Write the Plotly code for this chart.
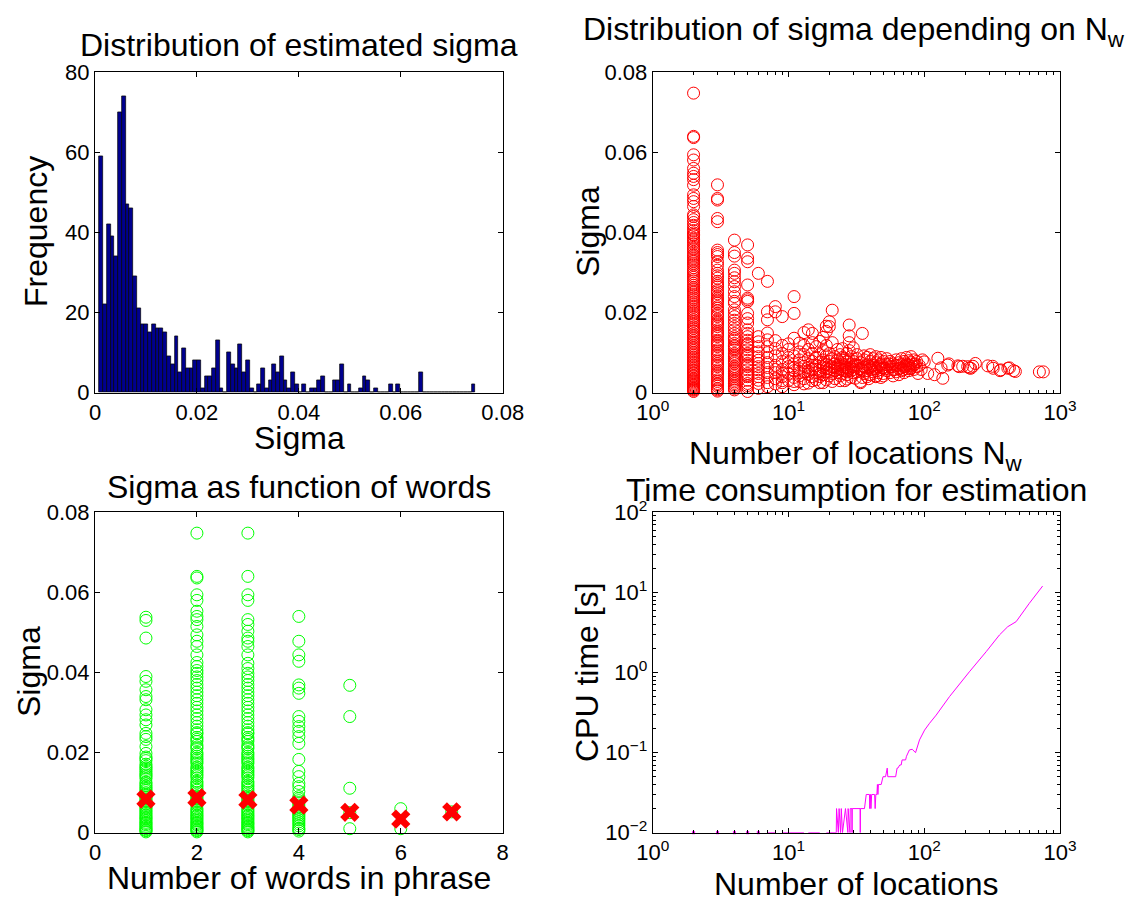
import numpy as np
import plotly.graph_objects as go

# ---------------- data ----------------
# histogram of estimated sigma (100 bins, MATLAB hist)
hist_min, hist_max = 0.00084, 0.07465
hist_counts = [59, 22, 42, 39, 34, 70, 74, 47, 46, 29,
               21, 17, 17, 15, 17, 16, 16, 15, 9, 7,
               14, 5, 11, 6, 6, 8, 8, 1, 4, 4,
               6, 13, 1, 0, 10, 7, 6, 12, 5, 8,
               1, 0, 2, 6, 1, 3, 7, 5, 9, 3,
               1, 5, 2, 0, 2, 0, 1, 1, 3, 4,
               0, 0, 3, 3, 7, 0, 2, 0, 0, 1,
               4, 3, 0, 1, 0, 0, 0, 2, 0, 2,
               0, 0, 0, 0, 0, 5, 0, 0, 0, 0,
               0, 0, 0, 0, 0, 0, 0, 0, 0, 2]

# sigma vs number of locations N_w (columns for small N_w)
sig_n2 = [0.0748, 0.0640, 0.0637, 0.0594, 0.0581, 0.0560, 0.0548, 0.0540, 0.0532, 0.0518,
          0.0494, 0.0485, 0.0477, 0.0465, 0.0444, 0.0432, 0.0418, 0.0405, 0.0395, 0.0386,
          0.0377, 0.0366, 0.0357, 0.0345, 0.0336, 0.0327, 0.0318, 0.0306, 0.0297, 0.0288,
          0.0279, 0.0268, 0.0259, 0.0250, 0.0241, 0.0232, 0.0222, 0.0213, 0.0204, 0.0196,
          0.0187, 0.0178, 0.0169, 0.0160, 0.0152, 0.0143, 0.0135, 0.0126, 0.0117, 0.0109,
          0.0101, 0.0093, 0.0085, 0.0077, 0.0069, 0.0061, 0.0054, 0.0047, 0.0040, 0.0033,
          0.0027, 0.0021, 0.0015, 0.0010, 0.0006, 0.0003,
          0.0392, 0.0372, 0.0351, 0.0331, 0.0312, 0.0292, 0.0273, 0.0254, 0.0236, 0.0217,
          0.0200, 0.0182, 0.0164, 0.0147, 0.0130, 0.0113, 0.0097, 0.0081, 0.0065, 0.0050,
          0.0036, 0.0024, 0.0012,
          0.0440, 0.0425, 0.0411, 0.0399, 0.0382, 0.0361, 0.0341, 0.0322, 0.0302, 0.0283,
          0.0263, 0.0245, 0.0227, 0.0208, 0.0191, 0.0173, 0.0155, 0.0139, 0.0122, 0.0105,
          0.0089, 0.0073, 0.0057, 0.0043, 0.0030, 0.0018, 0.0008]
sig_n3 = [0.0519, 0.0485, 0.0481, 0.0435, 0.0427, 0.0356, 0.0350, 0.0345, 0.0327, 0.0306,
          0.0298, 0.0286, 0.0273, 0.0264, 0.0256, 0.0247, 0.0240, 0.0231, 0.0223, 0.0211,
          0.0198, 0.0190, 0.0182, 0.0174, 0.0165, 0.0157, 0.0148, 0.0140, 0.0131, 0.0123,
          0.0115, 0.0107, 0.0098, 0.0090, 0.0082, 0.0073, 0.0065, 0.0057, 0.0049, 0.0040,
          0.0032, 0.0023, 0.0016, 0.0010, 0.0004,
          0.0268, 0.0235, 0.0205, 0.0178, 0.0152, 0.0127, 0.0103, 0.0078, 0.0053, 0.0028,
          0.0340, 0.0318, 0.0292, 0.0278, 0.0252, 0.0227, 0.0215, 0.0194, 0.0170, 0.0144,
          0.0119, 0.0094, 0.0069, 0.0045, 0.0020, 0.0007]
sig_n4 = [0.0381, 0.0350, 0.0341, 0.0306, 0.0298, 0.0287, 0.0277, 0.0265, 0.0252, 0.0240,
          0.0223, 0.0207, 0.0190, 0.0181, 0.0173, 0.0157, 0.0148, 0.0140, 0.0131, 0.0123,
          0.0115, 0.0107, 0.0098, 0.0090, 0.0081, 0.0073, 0.0065, 0.0057, 0.0048, 0.0040,
          0.0031, 0.0023, 0.0015, 0.0007, 0.0118, 0.0086, 0.0053, 0.0019,
          0.0228, 0.0198, 0.0165, 0.0135, 0.0111, 0.0094, 0.0077, 0.0061, 0.0044, 0.0035,
          0.0027, 0.0011]
sig_n5 = [0.0369, 0.0336, 0.0327, 0.0269, 0.0236, 0.0232, 0.0228, 0.0198, 0.0185, 0.0174,
          0.0157, 0.0148, 0.0140, 0.0131, 0.0123, 0.0115, 0.0107, 0.0098, 0.0090, 0.0081,
          0.0073, 0.0065, 0.0057, 0.0048, 0.0040, 0.0031, 0.0023, 0.0013, 0.0003,
          0.0120, 0.0094, 0.0069, 0.0044, 0.0018]
sig_n6 = [0.0298, 0.0140, 0.0127, 0.0115, 0.0102, 0.0090, 0.0081, 0.0073, 0.0065, 0.0057,
          0.0048, 0.0040, 0.0031, 0.0023, 0.0011]
sig_n7 = [0.0278, 0.0202, 0.0182, 0.0149, 0.0132, 0.0115, 0.0100, 0.0088, 0.0075, 0.0063,
          0.0050, 0.0038, 0.0025, 0.0015]

# scattered points for larger N_w
spread_n = [8, 8, 8, 8, 8, 8, 8, 8, 8, 9, 9, 9, 9, 9, 9, 9, 9,
            10, 10, 10, 10, 10, 10, 11, 11, 11, 11, 11, 11, 11, 11,
            12, 12, 12, 12, 12, 12, 13, 13, 13, 13, 13, 13,
            14, 14, 14, 14, 14, 14, 15, 15, 15, 15, 15, 15,
            16, 16, 16, 16, 16, 17, 17, 17, 17, 17,
            18, 18, 18, 18, 18, 18, 19, 19, 19, 19, 19, 19,
            20, 20, 20, 20, 20, 20, 21, 21, 21, 21, 21,
            22, 22, 22, 22, 23, 23, 23, 23, 24, 24, 24, 24,
            25, 25, 25, 25, 26, 26, 26, 26, 27, 27, 27, 27,
            28, 28, 28, 28, 28, 28, 29, 29, 29, 29, 30, 30, 30, 30,
            32, 32, 32, 32, 34, 34, 34, 34, 35, 36, 36, 36, 36,
            38, 38, 38, 38, 40, 40, 40, 40, 42, 42, 42,
            44, 44, 44, 44, 46, 46, 46, 48, 48, 48, 48, 50, 50, 50,
            53, 53, 53, 56, 56, 56, 59, 59, 59, 62, 62, 62,
            65, 65, 65, 68, 68, 68, 71, 71, 71, 74, 74, 74,
            77, 77, 77, 80, 80, 80, 84, 84, 84, 88, 88, 90, 92, 95, 97,
            100, 106, 119, 126, 133, 137, 149, 152, 177, 181, 192, 209, 215, 220,
            228, 238, 294, 319, 322, 362, 366, 413, 424, 455, 469, 705, 754]
spread_sig = [0.0215, 0.0202, 0.0092, 0.0068, 0.0050, 0.0035, 0.0022, 0.0110, 0.0130,
              0.0190, 0.0078, 0.0058, 0.0040, 0.0025, 0.0098, 0.0118, 0.0015,
              0.0088, 0.0065, 0.0048, 0.0030, 0.0108, 0.0122,
              0.0240, 0.0198, 0.0072, 0.0055, 0.0038, 0.0092, 0.0020, 0.0136,
              0.0082, 0.0060, 0.0042, 0.0028, 0.0124, 0.0102,
              0.0075, 0.0052, 0.0035, 0.0095, 0.0150, 0.0118,
              0.0085, 0.0063, 0.0046, 0.0024, 0.0157, 0.0108,
              0.0078, 0.0058, 0.0040, 0.0098, 0.0148, 0.0125,
              0.0068, 0.0050, 0.0088, 0.0032, 0.0115,
              0.0075, 0.0056, 0.0095, 0.0040, 0.0128,
              0.0082, 0.0062, 0.0045, 0.0105, 0.0138, 0.0025,
              0.0070, 0.0052, 0.0153, 0.0092, 0.0118, 0.0166,
              0.0078, 0.0060, 0.0165, 0.0177, 0.0098, 0.0042,
              0.0206, 0.0085, 0.0065, 0.0048, 0.0125,
              0.0072, 0.0055, 0.0090, 0.0035, 0.0068, 0.0082, 0.0050, 0.0108,
              0.0075, 0.0060, 0.0042, 0.0095,
              0.0088, 0.0065, 0.0048, 0.0110, 0.0070, 0.0055, 0.0085, 0.0030,
              0.0078, 0.0062, 0.0098, 0.0045,
              0.0142, 0.0169, 0.0082, 0.0058, 0.0105, 0.0125,
              0.0072, 0.0055, 0.0090, 0.0038, 0.0078, 0.0065, 0.0112, 0.0050,
              0.0085, 0.0068, 0.0052, 0.0095, 0.0075, 0.0060, 0.0025, 0.0028,
              0.0148, 0.0082, 0.0065, 0.0048, 0.0092,
              0.0070, 0.0055, 0.0088, 0.0040, 0.0078, 0.0062, 0.0095, 0.0045,
              0.0068, 0.0052, 0.0085,
              0.0075, 0.0060, 0.0090, 0.0042, 0.0082, 0.0065, 0.0050,
              0.0072, 0.0058, 0.0088, 0.0038, 0.0078, 0.0062, 0.0048,
              0.0070, 0.0055, 0.0085, 0.0065, 0.0078, 0.0050, 0.0072, 0.0058, 0.0042,
              0.0068, 0.0082, 0.0052, 0.0060, 0.0075, 0.0045,
              0.0070, 0.0085, 0.0055, 0.0065, 0.0078, 0.0050, 0.0072, 0.0060, 0.0088,
              0.0068, 0.0080, 0.0055, 0.0075, 0.0062, 0.0090, 0.0070, 0.0058, 0.0082,
              0.0065, 0.0078, 0.0048, 0.0068, 0.0058, 0.0082,
              0.0077, 0.0048, 0.0045, 0.0086, 0.0062, 0.0036, 0.0069, 0.0072, 0.0067,
              0.0065, 0.0066, 0.0065, 0.0062, 0.0061, 0.0066, 0.0073, 0.0067, 0.0066,
              0.0061, 0.0055, 0.0057, 0.0061, 0.0062, 0.0055, 0.0053, 0.0052, 0.0052]
band_n = [8, 9, 10, 11, 12, 13, 14, 15, 16, 17, 18, 19, 20, 22, 23, 24, 25, 26, 27, 29,
          30, 31, 33, 35, 37, 39, 41, 43, 45, 47, 49, 52, 55, 58, 61, 64, 67, 70, 73, 76,
          79, 82, 86,
          9, 11, 13, 15, 17, 19, 21, 24, 27, 31, 35, 39, 44, 50]
band_sig = [0.0058, 0.0048, 0.0075, 0.0062, 0.0050, 0.0066, 0.0054, 0.0068, 0.0058, 0.0047,
            0.0072, 0.0061, 0.0052, 0.0063, 0.0058, 0.0070, 0.0056, 0.0064, 0.0052, 0.0064,
            0.0058, 0.0070, 0.0060, 0.0056, 0.0062, 0.0066, 0.0058, 0.0064, 0.0055, 0.0070,
            0.0062, 0.0060, 0.0072, 0.0065, 0.0058, 0.0068, 0.0062, 0.0058, 0.0066, 0.0070,
            0.0060, 0.0066, 0.0072,
            0.0030, 0.0028, 0.0022, 0.0030, 0.0025, 0.0032, 0.0028, 0.0030, 0.0034, 0.0036,
            0.0038, 0.0035, 0.0040, 0.0042]

# sigma vs number of words in phrase
words_1 = [0.0538, 0.0530, 0.0486, 0.0390, 0.0378, 0.0357, 0.0340, 0.0332, 0.0307, 0.0294,
           0.0282, 0.0269, 0.0248, 0.0240, 0.0233, 0.0215, 0.0198, 0.0189, 0.0180, 0.0171,
           0.0162, 0.0153, 0.0144, 0.0135, 0.0126, 0.0117, 0.0109, 0.0100, 0.0092, 0.0084,
           0.0076, 0.0068, 0.0060, 0.0052, 0.0044, 0.0037, 0.0030, 0.0023, 0.0016, 0.0010,
           0.0005, 0.0002, 0.0148, 0.0113, 0.0080, 0.0048, 0.0026, 0.0013,
           0.0185, 0.0166, 0.0158, 0.0140, 0.0122, 0.0105, 0.0096, 0.0088, 0.0072, 0.0064,
           0.0056, 0.0040, 0.0034, 0.0020, 0.0007]
words_2 = [0.0748, 0.0640, 0.0636, 0.0594, 0.0580, 0.0553, 0.0540, 0.0532, 0.0515, 0.0494,
           0.0478, 0.0465, 0.0444, 0.0425, 0.0415, 0.0405, 0.0398, 0.0389, 0.0380, 0.0370,
           0.0361, 0.0351, 0.0342, 0.0332, 0.0323, 0.0313, 0.0304, 0.0294, 0.0285, 0.0275,
           0.0266, 0.0257, 0.0247, 0.0238, 0.0228, 0.0219, 0.0210, 0.0200, 0.0191, 0.0182,
           0.0173, 0.0164, 0.0155, 0.0146, 0.0137, 0.0128, 0.0119, 0.0110, 0.0101, 0.0092,
           0.0084, 0.0076, 0.0068, 0.0060, 0.0052, 0.0044, 0.0037, 0.0030, 0.0023, 0.0016,
           0.0010, 0.0005, 0.0002, 0.0186, 0.0151, 0.0115, 0.0080, 0.0048, 0.0026, 0.0013,
           0.0250, 0.0233, 0.0214, 0.0196, 0.0177, 0.0160, 0.0142, 0.0124, 0.0106, 0.0088,
           0.0072, 0.0056, 0.0041, 0.0034, 0.0020, 0.0007]
words_3 = [0.0748, 0.0640, 0.0594, 0.0580, 0.0532, 0.0520, 0.0503, 0.0486, 0.0478, 0.0465,
           0.0444, 0.0423, 0.0410, 0.0398, 0.0389, 0.0380, 0.0370, 0.0361, 0.0351, 0.0342,
           0.0332, 0.0323, 0.0313, 0.0304, 0.0294, 0.0285, 0.0275, 0.0266, 0.0257, 0.0247,
           0.0238, 0.0228, 0.0219, 0.0210, 0.0200, 0.0191, 0.0182, 0.0173, 0.0164, 0.0155,
           0.0146, 0.0137, 0.0128, 0.0119, 0.0110, 0.0101, 0.0092, 0.0084, 0.0076, 0.0068,
           0.0060, 0.0052, 0.0044, 0.0037, 0.0030, 0.0023, 0.0016, 0.0010, 0.0005, 0.0002,
           0.0186, 0.0151, 0.0115, 0.0080, 0.0048, 0.0026, 0.0013,
           0.0250, 0.0233, 0.0214, 0.0196, 0.0177, 0.0160, 0.0142, 0.0124, 0.0106, 0.0088,
           0.0072, 0.0056, 0.0041, 0.0034, 0.0020, 0.0007]
words_4 = [0.0540, 0.0478, 0.0444, 0.0428, 0.0369, 0.0361, 0.0348, 0.0290, 0.0278, 0.0265,
           0.0253, 0.0240, 0.0223, 0.0183, 0.0153, 0.0140, 0.0123, 0.0115, 0.0103, 0.0090,
           0.0080, 0.0069, 0.0058, 0.0048, 0.0040, 0.0032, 0.0022, 0.0011, 0.0004,
           0.0085, 0.0075, 0.0063, 0.0053, 0.0044, 0.0036, 0.0027, 0.0017, 0.0008]
words_5 = [0.0368, 0.0290, 0.0111, 0.0050, 0.0010]
words_6 = [0.0060, 0.0010]
words_7 = [0.0052]
word_counts = [1, 2, 3, 4, 5, 6, 7]
word_mean_sigma = [0.0084, 0.0087, 0.0082, 0.0069, 0.0051, 0.0034, 0.0052]

# CPU time vs number of locations (None = zero time, not shown on log axis)
cpu_floor_x = [2, 3, 4, 5, 6]
cpu_floor_y = [0.01, 0.01, 0.01, 0.01, 0.01]
cpu_x = [7, 8, None, 9, 10, 11, 12, 13, None, 14, 15, 16, 17, None, 19, 20, 21, 22.5,
         22.6, 23.3, 23.6, 24.2, 24.5, 25.0, 26.3, 27.4, 27.5, 28.4, 28.5, 29.3, 29.4,
         29.5, 33.7, 33.8, 33.9, 36.3, 37.4, 39.5, 39.7, 40.2, 40.5, 41.0, 43.1, 43.5,
         44.0, 44.8, 45.2, 45.6, 46.0, 48.2, 49.7, 51.9, 53.4, 53.9, 55.4, 61.6, 63.1,
         64.0, 66.0, 67.6, 68.7, 72.9, 74.0, 75.9, 77.8, 81.6, 84.0, 86.3, 92.3, 100.6,
         109.4, 122.5, 153.5, 187, 215, 286, 358, 412, 475, 594, 745]
cpu_y = [0.01, 0.01, None, 0.01, 0.01, 0.01, 0.01, 0.01, None, 0.01, 0.01, 0.01, 0.01,
         None, 0.01, 0.01, 0.01, 0.01,
         0.02, 0.01, 0.02, 0.01, 0.02, 0.01, 0.02, 0.01, 0.02, 0.01, 0.02, 0.02, 0.01,
         0.02, 0.02, 0.01, 0.02, 0.02, 0.03, 0.03, 0.02, 0.03, 0.02, 0.03, 0.03, 0.02,
         0.03, 0.03, 0.04, 0.03, 0.04, 0.04, 0.05, 0.05, 0.064, 0.05, 0.05, 0.05, 0.064,
         0.064, 0.07, 0.07, 0.081, 0.081, 0.09, 0.10, 0.108, 0.11, 0.105, 0.0998, 0.144,
         0.191, 0.232, 0.294, 0.50, 0.767, 1.02, 1.82, 2.94, 3.73, 4.31, 7.3, 12.0]

# tick labels
lin_sigma_vals = [0, 0.02, 0.04, 0.06, 0.08]
lin_sigma_text = ["0", "0.02", "0.04", "0.06", "0.08"]
log_x_vals = [1, 10, 100, 1000]
log_x_text = ["10<sup>0</sup>", "10<sup>1</sup>", "10<sup>2</sup>", "10<sup>3</sup>"]
log_y_vals = [0.01, 0.1, 1, 10, 100]
log_y_text = ["10<sup>\u22122</sup>", "10<sup>\u22121</sup>", "10<sup>0</sup>",
              "10<sup>1</sup>", "10<sup>2</sup>"]

# ---------------- figure ----------------
W, H = 1134, 902
FONT = "Liberation Sans, Arial, Helvetica, sans-serif"
TICK_SIZE = 22
LABEL_SIZE = 32

edges = np.linspace(hist_min, hist_max, len(hist_counts) + 1)
centers = (edges[:-1] + edges[1:]) / 2
bin_w = edges[1] - edges[0]

fig = go.Figure()

fig.add_trace(go.Bar(x=centers, y=hist_counts, width=bin_w,
                     marker=dict(color="#00008F", line=dict(color="black", width=0.7)),
                     xaxis="x", yaxis="y", showlegend=False))

circle = dict(symbol="circle-open", size=12, line=dict(width=1))
nw_cols = [(2, sig_n2), (3, sig_n3), (4, sig_n4), (5, sig_n5), (6, sig_n6), (7, sig_n7)]
nw_x, nw_y = [], []
for n, vals in nw_cols:
    nw_x += [n] * len(vals)
    nw_y += vals
nw_x += spread_n + band_n
nw_y += spread_sig + band_sig
fig.add_trace(go.Scatter(x=nw_x, y=nw_y, mode="markers",
                         marker=dict(color="#FF0000", **circle),
                         xaxis="x2", yaxis="y2", showlegend=False, cliponaxis=False))

wcols = [words_1, words_2, words_3, words_4, words_5, words_6, words_7]
wx, wy = [], []
for n, vals in zip(word_counts, wcols):
    wx += [n] * len(vals)
    wy += vals
fig.add_trace(go.Scatter(x=wx, y=wy, mode="markers",
                         marker=dict(color="#00FF00", **circle),
                         xaxis="x3", yaxis="y3", showlegend=False, cliponaxis=False))
fig.add_trace(go.Scatter(x=word_counts, y=word_mean_sigma, mode="markers",
                         marker=dict(color="#FF0000", symbol="x", size=17,
                                     line=dict(width=0)),
                         xaxis="x3", yaxis="y3", showlegend=False, cliponaxis=False))

fig.add_trace(go.Scatter(x=cpu_x, y=cpu_y, mode="lines",
                         line=dict(color="#FF00FF", width=1),
                         xaxis="x4", yaxis="y4", showlegend=False, connectgaps=False))
fig.add_trace(go.Scatter(x=cpu_floor_x, y=cpu_floor_y, mode="markers",
                         marker=dict(color="#FF00FF", symbol="square", size=3),
                         xaxis="x4", yaxis="y4", showlegend=False, cliponaxis=False))

xl = [95 / W, 502.7 / W]
xr = [652.7 / W, 1060 / W]
yt = [1 - 392.7 / H, 1 - 72.3 / H]
yb = [1 - 832.7 / H, 1 - 512.3 / H]


def ax(domain, anchor, **kw):
    d = dict(domain=domain, anchor=anchor, automargin=False,
             showline=True, linecolor="black", linewidth=1,
             mirror="ticks", ticks="inside", ticklen=5, tickcolor="black", tickwidth=1,
             showgrid=False, zeroline=False,
             tickfont=dict(family=FONT, size=TICK_SIZE, color="black"))
    d.update(kw)
    return d


minor_log = dict(ticks="inside", ticklen=3, tickcolor="black", showgrid=False)

fig.update_layout(
    width=W, height=H, margin=dict(l=0, r=0, t=0, b=0, autoexpand=False),
    paper_bgcolor="white", plot_bgcolor="white", bargap=0,
    font=dict(family=FONT, color="black"),
    xaxis=ax(xl, "y", range=[0, 0.08], tickvals=lin_sigma_vals, ticktext=lin_sigma_text),
    yaxis=ax(yt, "x", range=[0, 80], tickvals=[0, 20, 40, 60, 80]),
    xaxis2=ax(xr, "y2", type="log", range=[0, 3], tickvals=log_x_vals,
              ticktext=log_x_text, minor=dict(minor_log, dtick="D1")),
    yaxis2=ax(yt, "x2", range=[0, 0.08], tickvals=lin_sigma_vals, ticktext=lin_sigma_text),
    xaxis3=ax(xl, "y3", range=[0, 8], tickvals=[0, 2, 4, 6, 8]),
    yaxis3=ax(yb, "x3", range=[0, 0.08], tickvals=lin_sigma_vals, ticktext=lin_sigma_text),
    xaxis4=ax(xr, "y4", type="log", range=[0, 3], tickvals=log_x_vals,
              ticktext=log_x_text, minor=dict(minor_log, dtick="D1")),
    yaxis4=ax(yb, "x4", type="log", range=[-2, 2], tickvals=log_y_vals,
              ticktext=log_y_text, minor=dict(minor_log, dtick="D1")),
)


def label(text, xpx, ypx, angle=0, size=LABEL_SIZE):
    return dict(text=text, x=xpx / W, y=1 - ypx / H, xref="paper", yref="paper",
                showarrow=False, xanchor="center", yanchor="middle", textangle=angle,
                font=dict(family=FONT, size=size, color="black"))


fig.update_layout(annotations=[
    label("Distribution of estimated sigma", 299, 45),
    label("Distribution of sigma depending on N<sub>w</sub>", 854, 31),
    label("Sigma as function of words", 299, 487),
    label("Time consumption for estimation", 856, 490),
    label("Sigma", 299, 438),
    label("Number of locations N<sub>w</sub>", 856, 456),
    label("Number of words in phrase", 299, 878),
    label("Number of locations", 856, 884),
    label("Frequency", 36, 232, angle=-90),
    label("Sigma", 588, 232, angle=-90),
    label("Sigma", 29, 672, angle=-90),
    label("CPU time [s]", 587, 672, angle=-90),
])

fig.write_html("out.html")
